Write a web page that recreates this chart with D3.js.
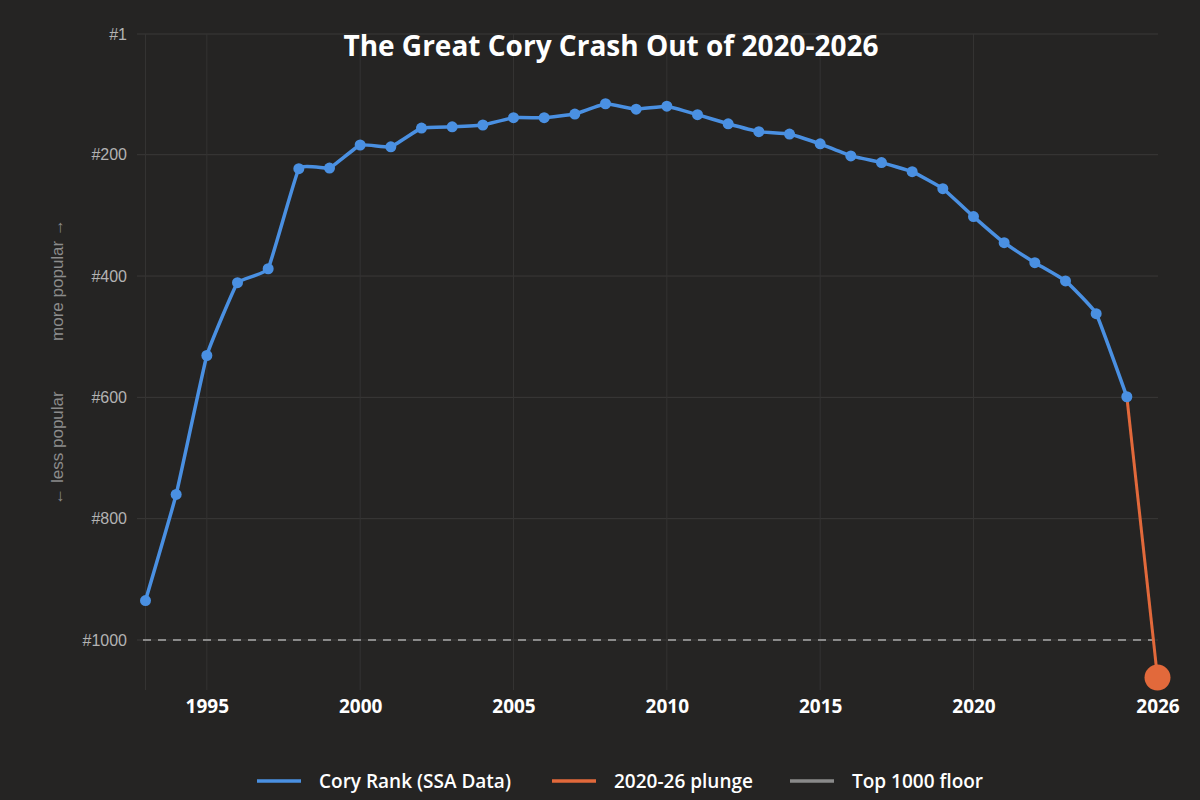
<!DOCTYPE html>
<html>
<head>
<meta charset="utf-8">
<script src="https://cdn.jsdelivr.net/npm/d3@7"></script>
<style>
  html, body { margin: 0; padding: 0; background: #252423; }
  svg { display: block; }
</style>
</head>
<body>
<svg id="chart" width="1200" height="800"></svg>
<script>
// data
var years = [1993, 1994, 1995, 1996, 1997, 1998, 1999, 2000, 2001, 2002, 2003, 2004, 2005, 2006, 2007, 2008, 2009,
             2010, 2011, 2012, 2013, 2014, 2015, 2016, 2017, 2018, 2019, 2020, 2021, 2022, 2023, 2024, 2025];
var ranks = [935, 760, 531, 411, 388, 223, 222, 184, 187, 156, 154, 151, 139, 139, 133, 116, 125,
             120, 134, 149, 162, 166, 182, 202, 213, 228, 256, 302, 345, 378, 408, 462, 599];
var plungeYears = [2025, 2026];
var plungeRanks = [599, 1062];
var floorRank = 1000;
var yTicks = [1, 200, 400, 600, 800, 1000];
var xTicks = [1995, 2000, 2005, 2010, 2015, 2020, 2026];
var legendItems = ['Cory Rank (SSA Data)', '2020-26 plunge', 'Top 1000 floor'];

var blue = '#4a90e2', orange = '#e2693b', grey = '#8a8a8a';

var svg = d3.select('#chart');

var x = d3.scaleLinear().domain([1993, 2026]).range([145.5, 1157.5]);
var y = d3.scaleLinear().domain([1, 1000]).range([34, 640]);

// grid
var grid = svg.append('g');
grid.selectAll('line.h').data(yTicks).enter().append('line')
    .attr('x1', 137).attr('x2', 1158)
    .attr('y1', d => y(d)).attr('y2', d => y(d))
    .attr('stroke', '#3a3938').attr('stroke-width', 1);
grid.selectAll('line.v').data(xTicks.filter(d => d != 2026).concat([1993])).enter().append('line')
    .attr('x1', d => x(d)).attr('x2', d => x(d))
    .attr('y1', 34).attr('y2', 690)
    .attr('stroke', '#343332').attr('stroke-width', 1);

// y axis labels
var yAx = d3.axisLeft(y).tickValues(yTicks).tickFormat(d => '#' + d).tickSize(0).tickPadding(10);
svg.append('g').attr('transform', 'translate(137,0)').call(yAx)
    .call(g => g.select('.domain').remove())
    .selectAll('text')
    .attr('fill', '#b3b3b3').style('font', '16px "Liberation Sans", Arial, sans-serif');

// x axis labels
var xAx = d3.axisBottom(x).tickValues(xTicks).tickFormat(d3.format('d')).tickSize(0).tickPadding(0);
svg.append('g').attr('transform', 'translate(0,699)').call(xAx)
    .call(g => g.select('.domain').remove())
    .selectAll('text')
    .attr('fill', '#ffffff').style('font', '700 19px "Open Sans", sans-serif');

// side note
svg.append('text')
    .attr('transform', 'translate(63,280) rotate(-90)')
    .attr('text-anchor', 'middle').attr('fill', '#8c8c8c')
    .style('font', '17px "Liberation Sans", Arial, sans-serif')
    .text('more popular \u2192');
svg.append('text')
    .attr('transform', 'translate(63,448) rotate(-90)')
    .attr('text-anchor', 'middle').attr('fill', '#8c8c8c')
    .style('font', '17px "Liberation Sans", Arial, sans-serif')
    .text('\u2190 less popular');

// top 1000 floor
svg.append('line')
    .attr('x1', 143).attr('x2', 1153)
    .attr('y1', y(floorRank)).attr('y2', y(floorRank))
    .attr('stroke', grey).attr('stroke-width', 2).attr('stroke-dasharray', '8,7');

// plunge
var plunge = plungeYears.map((d, i) => [d, plungeRanks[i]]);
svg.append('path').datum(plunge)
    .attr('d', d3.line().x(d => x(d[0])).y(d => y(d[1])))
    .attr('fill', 'none').attr('stroke', orange).attr('stroke-width', 3);

// main series
var pts = years.map((d, i) => [d, ranks[i]]);
svg.append('path').datum(pts)
    .attr('d', d3.line().curve(d3.curveCardinal.tension(0.7)).x(d => x(d[0])).y(d => y(d[1])))
    .attr('fill', 'none').attr('stroke', blue).attr('stroke-width', 3.5);
svg.selectAll('circle.p').data(pts).enter().append('circle')
    .attr('cx', d => x(d[0])).attr('cy', d => y(d[1])).attr('r', 5.5)
    .attr('fill', blue);

svg.append('circle').datum(plunge[1])
    .attr('cx', d => x(d[0])).attr('cy', d => y(d[1])).attr('r', 13)
    .attr('fill', orange);

// title
svg.append('text')
    .attr('x', 611).attr('y', 56).attr('text-anchor', 'middle')
    .attr('fill', '#ffffff')
    .style('font', '700 28px "Open Sans", sans-serif')
    .text('The Great Cory Crash Out of 2020-2026');

// legend
var legX = [257, 552, 790];
var legColors = [blue, orange, grey];
var leg = svg.selectAll('g.leg').data(legendItems).enter().append('g')
    .attr('transform', (d, i) => 'translate(' + legX[i] + ',781)');
leg.append('line').attr('x1', 0).attr('x2', 44).attr('y1', 0).attr('y2', 0)
    .attr('stroke', (d, i) => legColors[i]).attr('stroke-width', 3.5);
leg.append('text').attr('x', 62).attr('y', 7)
    .attr('fill', '#ffffff')
    .style('font', '600 19px "Open Sans", sans-serif')
    .text(d => d);
</script>
</body>
</html>
